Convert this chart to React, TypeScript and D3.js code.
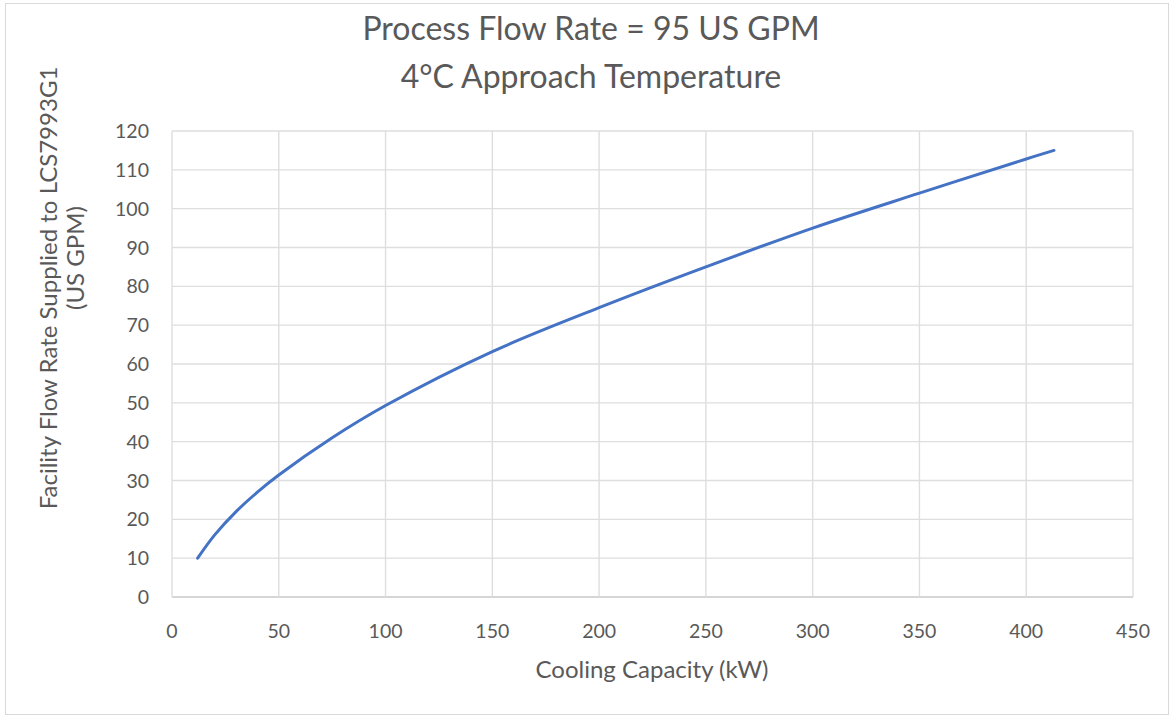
import React, { useEffect, useRef } from 'react';
import * as d3 from 'd3';

// cooling capacity (kW) vs facility flow rate (US GPM)
const capacity = [12, 20, 30, 40, 50, 75, 100, 150, 200, 250, 300, 350, 400, 413];
const flowRate = [10, 16, 22, 27, 31.4, 41, 49.3, 63.2, 74.5, 85, 95, 104, 112.8, 115];

const xTicks = [0, 50, 100, 150, 200, 250, 300, 350, 400, 450];
const yTicks = [0, 10, 20, 30, 40, 50, 60, 70, 80, 90, 100, 110, 120];

const titleLines = ['Process Flow Rate = 95 US GPM', '4°C Approach Temperature'];
const xTitle = 'Cooling Capacity (kW)';
const yTitleLines = ['Facility Flow Rate Supplied to LCS7993G1', '(US GPM)'];

const W = 1175;
const H = 717;
const FONT = 'Lato, "Open Sans", sans-serif';
const TEXT = '#595959';

export default function App() {
  const ref = useRef<SVGSVGElement>(null);

  useEffect(() => {
    const svg = d3.select(ref.current);
    svg.selectAll('*').remove();

    const margin = { top: 131, right: 42, bottom: 120, left: 172 };
    const width = W - margin.left - margin.right;
    const height = H - margin.top - margin.bottom;

    svg
      .append('rect')
      .attr('x', 5.5)
      .attr('y', 3.5)
      .attr('width', 1163)
      .attr('height', 711)
      .attr('fill', '#fff')
      .attr('stroke', '#d9d9d9');

    const g = svg.append('g').attr('transform', `translate(${margin.left}, ${margin.top})`);

    const x = d3.scaleLinear().domain([0, 450]).range([0, width]);
    const y = d3.scaleLinear().domain([0, 120]).range([height, 0]);

    // gridlines
    g.append('g')
      .selectAll('line')
      .data(yTicks)
      .enter()
      .append('line')
      .attr('x1', 0)
      .attr('x2', width)
      .attr('y1', d => y(d))
      .attr('y2', d => y(d))
      .attr('stroke', d => (d === 0 ? '#c8c8c8' : '#dedede'))
      .attr('stroke-width', 1.4);

    g.append('g')
      .selectAll('line')
      .data(xTicks)
      .enter()
      .append('line')
      .attr('x1', d => x(d))
      .attr('x2', d => x(d))
      .attr('y1', 0)
      .attr('y2', height)
      .attr('stroke', '#dedede')
      .attr('stroke-width', 1.4);

    // tick labels
    g.append('g')
      .selectAll('text')
      .data(yTicks)
      .enter()
      .append('text')
      .attr('x', -23)
      .attr('y', d => y(d))
      .attr('dy', '0.36em')
      .attr('text-anchor', 'end')
      .style('font-family', FONT)
      .style('font-size', '19.5px')
      .attr('fill', TEXT)
      .text(d => d);

    g.append('g')
      .selectAll('text')
      .data(xTicks)
      .enter()
      .append('text')
      .attr('x', d => x(d))
      .attr('y', height + 41)
      .attr('text-anchor', 'middle')
      .style('font-family', FONT)
      .style('font-size', '19.5px')
      .attr('fill', TEXT)
      .text(d => d);

    // curve
    const line = d3
      .line<number>()
      .x((_, i) => x(capacity[i]))
      .y(d => y(d))
      .curve(d3.curveCatmullRom.alpha(0.5));

    g.append('path')
      .datum(flowRate)
      .attr('d', line)
      .attr('fill', 'none')
      .attr('stroke', '#4472c4')
      .attr('stroke-width', 3)
      .attr('stroke-linecap', 'round');

    // titles
    svg
      .append('g')
      .selectAll('text')
      .data(titleLines)
      .enter()
      .append('text')
      .attr('x', 591)
      .attr('y', (_, i) => 40 + i * 48)
      .attr('text-anchor', 'middle')
      .style('font-family', FONT)
      .style('font-size', '32px')
      .attr('fill', TEXT)
      .text(d => d);

    svg
      .append('text')
      .attr('x', 652)
      .attr('y', 678)
      .attr('text-anchor', 'middle')
      .style('font-family', FONT)
      .style('font-size', '24px')
      .attr('fill', TEXT)
      .text(xTitle);

    svg
      .append('g')
      .selectAll('text')
      .data(yTitleLines)
      .enter()
      .append('text')
      .attr('transform', (_, i) => `translate(${57 + i * 27}, ${i === 0 ? 288 : 258}) rotate(-90)`)
      .attr('text-anchor', 'middle')
      .style('font-family', FONT)
      .style('font-size', '24px')
      .attr('fill', TEXT)
      .text(d => d);
  }, []);

  return (
    <div style={{ position: 'absolute', left: 0, top: 0 }}>
      <svg ref={ref} width={W} height={H} style={{ display: 'block' }} />
    </div>
  );
}
